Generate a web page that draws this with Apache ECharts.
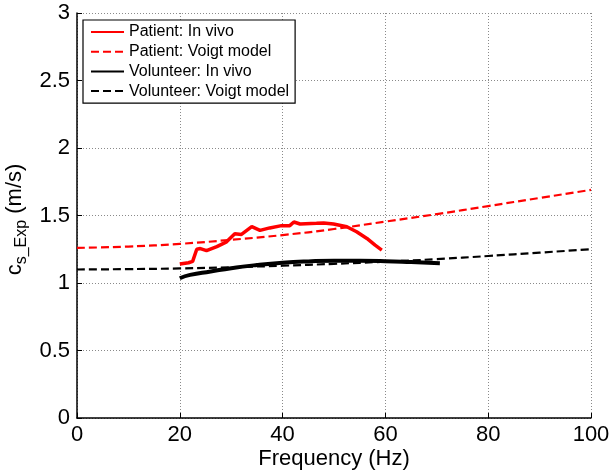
<!DOCTYPE html>
<html>
<head>
<meta charset="utf-8">
<script src="https://cdn.jsdelivr.net/npm/echarts@6/dist/echarts.min.js"></script>
<style>
html,body{margin:0;padding:0;background:#fff;}
#chart{width:611px;height:472px;}
</style>
</head>
<body>
<div id="chart"></div>
<script>
// Data
const seriesNames = ['Patient: In vivo', 'Patient: Voigt model', 'Volunteer: In vivo', 'Volunteer: Voigt model'];

const patientVivoFreq = [20, 21.7, 22.5, 23.3, 24, 25.2, 27.2, 29.1, 30.7, 32, 34, 35.6, 37.5, 39.8, 41.4, 42.2, 43.4, 46.6, 48, 49.9, 52.5, 54.4, 56.4, 58, 59.3];
const patientVivoC    = [1.14, 1.15, 1.16, 1.25, 1.255, 1.24, 1.27, 1.305, 1.365, 1.36, 1.417, 1.39, 1.408, 1.425, 1.425, 1.452, 1.437, 1.442, 1.445, 1.437, 1.417, 1.38, 1.33, 1.28, 1.244];

const modelFreq       = [0, 10, 20, 30, 40, 50, 60, 70, 80, 90, 100];
const patientModelC   = [1.26, 1.27, 1.29, 1.32, 1.355, 1.40, 1.455, 1.51, 1.57, 1.63, 1.69];

const volunteerVivoFreq = [20, 22, 26, 30, 35, 40, 45, 50, 55, 60, 65, 70.6];
const volunteerVivoC    = [1.035, 1.06, 1.085, 1.11, 1.133, 1.15, 1.16, 1.165, 1.165, 1.162, 1.155, 1.146];

const volunteerModelC = [1.10, 1.103, 1.108, 1.117, 1.128, 1.142, 1.158, 1.177, 1.20, 1.225, 1.25];

const xTicks = {min: 0, max: 100, interval: 20};
const yTicks = {min: 0, max: 3, interval: 0.5};

function pairs(xs, ys) { return xs.map((x, i) => [x, ys[i]]); }

const chart = echarts.init(document.getElementById('chart'), null, {renderer: 'canvas'});
const font = 'Liberation Sans, Arial, sans-serif';
const grid = {left: 77, right: 20, top: 13, bottom: 54, outerBoundsMode: 'none', containLabel: false};
const gridLine = {show: true, lineStyle: {color: '#8a8a8a', type: [1, 2], width: 1}};
const axisLine = {show: true, onZero: false, lineStyle: {color: '#000', width: 1.5}};

const option = {
  animation: false,
  backgroundColor: '#fff',
  grid: grid,
  legend: {
    orient: 'vertical',
    left: 83, top: 20,
    itemWidth: 33, itemHeight: 14, itemGap: 3.7,
    padding: [4, 6, 4, 7],
    backgroundColor: '#fff',
    borderColor: '#000', borderWidth: 1.2,
    itemStyle: {opacity: 0},
    textStyle: {fontFamily: font, fontSize: 16, color: '#000'},
    data: seriesNames
  },
  xAxis: {
    type: 'value', min: xTicks.min, max: xTicks.max, interval: xTicks.interval,
    name: 'Frequency (Hz)', nameLocation: 'middle', nameGap: 30, nameMoveOverlap: false,
    nameTextStyle: {fontFamily: font, fontSize: 22, color: '#000'},
    axisLine: axisLine,
    axisTick: {show: true, inside: true, length: 5, lineStyle: {color: '#000'}},
    axisLabel: {fontFamily: font, fontSize: 22, color: '#000', margin: 6},
    splitLine: gridLine
  },
  yAxis: {
    type: 'value', min: yTicks.min, max: yTicks.max, interval: yTicks.interval,
    name: '{c|c}{s|s_Exp}{c| (m/s)}', nameLocation: 'middle', nameGap: 47, nameRotate: 90, nameMoveOverlap: false,
    nameTextStyle: {
      fontFamily: font, color: '#000', padding: [0, 8, 0, 0],
      rich: {
        c: {fontFamily: font, fontSize: 22, lineHeight: 22, verticalAlign: 'top', color: '#000'},
        s: {fontFamily: font, fontSize: 16, lineHeight: 26, verticalAlign: 'bottom', color: '#000'}
      }
    },
    axisLine: axisLine,
    axisTick: {show: true, inside: true, length: 5, lineStyle: {color: '#000'}},
    axisLabel: {fontFamily: font, fontSize: 22, color: '#000', margin: 7},
    splitLine: gridLine
  },
  series: [
    {name: seriesNames[0], type: 'line', data: pairs(patientVivoFreq, patientVivoC), symbol: 'none',
     lineStyle: {color: '#ff0000', width: 3.5}, itemStyle: {color: '#ff0000'}, z: 3},
    {name: seriesNames[1], type: 'line', data: pairs(modelFreq, patientModelC), symbol: 'none', smooth: true,
     lineStyle: {color: '#ff0000', width: 2.2, type: [8, 4]}, itemStyle: {color: '#ff0000'}, z: 2},
    {name: seriesNames[2], type: 'line', data: pairs(volunteerVivoFreq, volunteerVivoC), symbol: 'none', smooth: true,
     lineStyle: {color: '#000', width: 4}, itemStyle: {color: '#000'}, z: 3},
    {name: seriesNames[3], type: 'line', data: pairs(modelFreq, volunteerModelC), symbol: 'none', smooth: true,
     lineStyle: {color: '#000', width: 2.2, type: [8, 4]}, itemStyle: {color: '#000'}, z: 2}
  ]
};
chart.setOption(option);
</script>
</body>
</html>
